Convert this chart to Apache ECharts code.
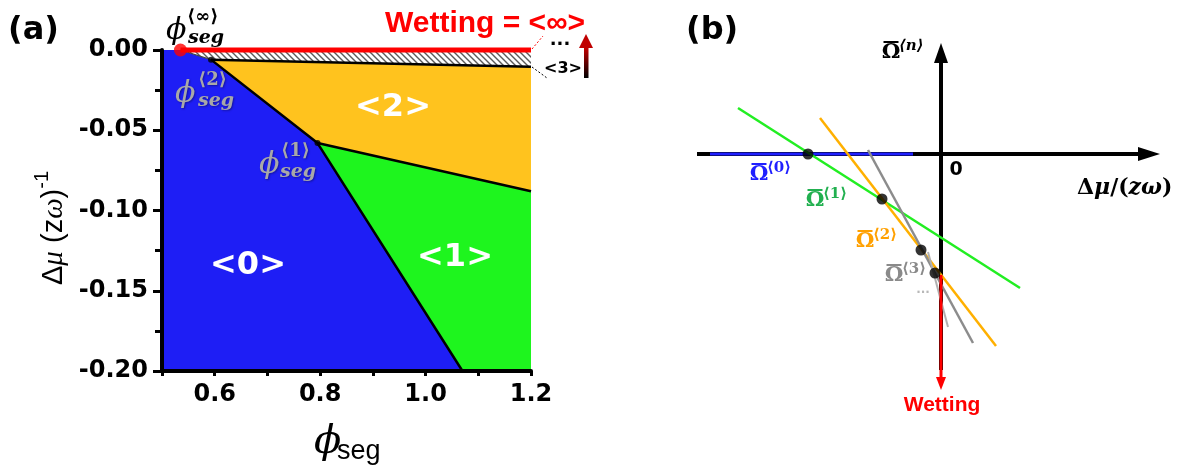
<!DOCTYPE html>
<html><head><meta charset="utf-8">
<script src="https://cdn.jsdelivr.net/npm/echarts@6/dist/echarts.min.js"></script>
<style>html,body{margin:0;padding:0;background:#fff}#c{width:1179px;height:475px}</style>
</head><body><div id="c"></div>
<script>
// ---------------- Panel (a): phase diagram ----------------
const xRangeA = [0.5, 1.2];
const yRangeA = [-0.20, 0.00];
const xTickLabelsA = ['0.6', '0.8', '1.0', '1.2'];
const phiInf = [0.535, 0.000];
const phi2 = [0.593, -0.006];
const phi1 = [0.795, -0.058];
const b01End = [1.070, -0.200];
const b12End = [1.200, -0.088];
const b23End = [1.200, -0.0105];
const region0 = [[0.5, 0], phiInf, phi2, phi1, b01End, [0.5, -0.2]];
const region1 = [phi1, b12End, [1.2, -0.2], b01End];
const region2 = [phi2, b23End, b12End, phi1];
const regionHigher = [phiInf, [1.2, 0], b23End, phi2];
const wettingLine = [phiInf, [1.2, 0]];
const line0 = [phi2, phi1, b01End];
const line12 = [phi1, b12End];
const line23 = [phi2, b23End];
const lineInf2 = [phiInf, phi2];

// ---------------- Panel (b): schematic ----------------
const xRangeB = [-25, 22];
const yRangeB = [-24.6, 11.4];
const omega0 = [[-23.1, 0], [-2.8, 0]];
const omega1 = [[-20.3, 4.6], [7.9, -13.4]];
const omega2 = [[-12.1, 3.6], [5.5, -19.2]];
const omega3 = [[-7.3, 0.4], [3.2, -18.9]];
const omega4 = [[-1.3, -9.8], [0.7, -17.3]];
const crossings = [[-13.3, 0], [-5.9, -4.5], [-2.0, -9.6], [-0.6, -11.9]];
const wettingB = [[0, -12.1], [0, -22.3]];
const hAxisB = [[-24.4, 0], [19.9, 0]];
const vAxisB = [[0, -21.6], [0, 9.3]];
const hAxisTip = [21.9, 0];
const vAxisTip = [0, 11.1];
const wettingTip = [0, -23.6];

// ---------------- helpers ----------------
const C_BLUE = '#1e1ef5', C_YEL = '#ffc31e', C_GRN = '#1ef51e';
const mctx = document.createElement('canvas').getContext('2d');
function tw(t, f) { mctx.font = f; return mctx.measureText(t).width; }

const hatch = document.createElement('canvas');
hatch.width = 6; hatch.height = 6;
(function () {
  const g = hatch.getContext('2d');
  g.fillStyle = '#fff'; g.fillRect(0, 0, 6, 6);
  g.strokeStyle = '#5a5a5a'; g.lineWidth = 1.4;
  g.beginPath();
  g.moveTo(-1, -1); g.lineTo(7, 7);
  g.moveTo(-4, 2); g.lineTo(4, 10);
  g.moveTo(2, -4); g.lineTo(10, 4);
  g.stroke();
})();

function poly(pts, fill, xi) {
  return { type: 'custom', xAxisIndex: xi, yAxisIndex: xi, silent: true, z: 2, data: [0],
    renderItem: (p, api) => ({ type: 'polygon', shape: { points: pts.map(q => api.coord(q)) }, style: { fill: fill } }) };
}
function seg(data, color, width, xi, z, opacity) {
  return { type: 'line', xAxisIndex: xi, yAxisIndex: xi, data: data, symbol: 'none', clip: false, silent: true,
    z: z || 3, lineStyle: { color: color, width: width, opacity: opacity == null ? 1 : opacity } };
}
function dots(data, size, color, xi, z) {
  return { type: 'scatter', xAxisIndex: xi, yAxisIndex: xi, data: data, symbol: 'circle', symbolSize: size,
    clip: false, silent: true, z: z || 6, itemStyle: { color: color } };
}
function arrow(tip, dir, len, half, color) {
  return { type: 'custom', xAxisIndex: 1, yAxisIndex: 1, silent: true, z: 5, data: [tip],
    renderItem: (p, api) => {
      const c = api.coord([api.value(0), api.value(1)]);
      const bx = c[0] - dir[0] * len, by = c[1] - dir[1] * len, nx = -dir[1], ny = dir[0];
      return { type: 'polygon', shape: { points: [c, [bx + nx * half, by + ny * half], [bx - nx * half, by - ny * half]] }, style: { fill: color } };
    } };
}
function txt(x, y, text, font, fill, align, extra) {
  return { type: 'text', x: x, y: y, silent: true, z: 100,
    style: Object.assign({ text: text, font: font, fill: fill || '#000', align: align || 'left', verticalAlign: 'middle' }, extra || {}) };
}
function runs(x, y, parts) {
  const out = []; let cx = x;
  parts.forEach(p => { out.push(txt(cx, y + (p.dy || 0), p.t, p.f, p.c)); cx += tw(p.t, p.f) + (p.gap || 0); });
  return out;
}
function phiLabel(x, y, sup, color, shadow, supDx, segDx) {
  const ex = shadow ? { textShadowColor: 'rgba(0,0,0,0.35)', textShadowBlur: 2, textShadowOffsetX: 1, textShadowOffsetY: 1 } : {};
  return [
    txt(x, y, 'ϕ', 'italic 30px "DejaVu Serif"', color, 'left', ex),
    txt(x + supDx, y - 14, sup, 'bold 18px "DejaVu Serif"', color, 'left', ex),
    txt(x + segDx, y + 7, 'seg', 'italic bold 19px "DejaVu Serif"', color, 'left', ex)
  ];
}
function omegaLabel(cx, cy, sup, color, supItalic) {
  return [
    txt(cx, cy, 'Ω', 'bold 21px "DejaVu Serif"', color, 'center'),
    { type: 'rect', silent: true, z: 100, shape: { x: cx - 7.5, y: cy - 12, width: 15, height: 2 }, style: { fill: color } },
    txt(cx + 8, cy - 7, sup, (supItalic ? 'italic ' : '') + 'bold 15px "DejaVu Serif"', color, 'left')
  ];
}

let G = [];
G.push(txt(8, 31, '(a)', 'bold 32px "DejaVu Sans"'));
G.push(txt(686, 31, '(b)', 'bold 32px "DejaVu Sans"'));
G = G.concat(phiLabel(166, 31, '⟨∞⟩', '#000', false, 21, 22));
G = G.concat(phiLabel(175, 94, '⟨2⟩', '#a8a8a8', true, 23, 23));
G = G.concat(phiLabel(259, 165, '⟨1⟩', '#a8a8a8', true, 22, 21));
G.push(txt(248, 266, '<0>', 'bold 32px "DejaVu Sans"', '#fff', 'center'));
G.push(txt(455, 258, '<1>', 'bold 32px "DejaVu Sans"', '#fff', 'center'));
G.push(txt(393, 108, '<2>', 'bold 32px "DejaVu Sans"', '#fff', 'center'));
G.push(txt(385, 24, 'Wetting = <∞>', 'bold 30px "Liberation Sans"', '#ff0000'));
G.push(txt(560, 40, '...', 'bold 18px "DejaVu Sans"', '#000', 'center'));
G.push(txt(563, 69, '<3>', 'bold 16px "DejaVu Sans"', '#000', 'center'));
G.push({ type: 'rect', silent: true, z: 100, shape: { x: 584, y: 46, width: 4.5, height: 32 },
  style: { fill: { type: 'linear', x: 0, y: 0, x2: 0, y2: 1, colorStops: [{ offset: 0, color: '#d00000' }, { offset: 1, color: '#000' }] } } });
G.push({ type: 'polygon', silent: true, z: 100, shape: { points: [[579, 48], [593, 48], [586, 34]] }, style: { fill: '#c00000' } });
G.push({ type: 'line', silent: true, z: 100, shape: { x1: 532, y1: 49, x2: 543, y2: 36 }, style: { stroke: '#ff0000', lineWidth: 1, lineDash: [2, 2] } });
G.push({ type: 'line', silent: true, z: 100, shape: { x1: 532, y1: 67, x2: 547, y2: 78 }, style: { stroke: '#000', lineWidth: 1, lineDash: [2, 2] } });
// y-axis name (rotated)
G.push({ type: 'group', x: 54, y: 225, rotation: Math.PI / 2, children: runs(-60, 0, [
  { t: 'Δ', f: '29px "Liberation Sans"' },
  { t: 'μ', f: 'italic 29px "Liberation Serif"' },
  { t: ' (', f: '29px "Liberation Sans"' },
  { t: 'z', f: '29px "Liberation Sans"' },
  { t: 'ω', f: 'italic 29px "Liberation Serif"' },
  { t: ')', f: '29px "Liberation Sans"' },
  { t: '-1', f: '20px "Liberation Sans"', dy: -12 }
]) });
// x-axis name
G.push(txt(314, 443, 'ϕ', 'italic 40px "DejaVu Serif"'));
G.push(txt(337, 452, 'seg', '27px "Liberation Sans"'));
// Panel (b) labels
G = G.concat(omegaLabel(891, 53, '⟨n⟩', '#000', true));
G = G.concat(omegaLabel(759, 175, '⟨0⟩', '#1f1fff'));
G = G.concat(omegaLabel(815, 201, '⟨1⟩', '#22b050'));
G = G.concat(omegaLabel(865, 242, '⟨2⟩', '#ffa000'));
G = G.concat(omegaLabel(894, 276, '⟨3⟩', '#8a8a8a'));
G.push(txt(923, 290, '...', 'bold 12px "DejaVu Sans"', '#b8b8b8', 'center'));
G.push(txt(956, 170, '0', 'bold 19px "DejaVu Sans"', '#000', 'center'));
G = G.concat(runs(1077, 188, [
  { t: 'Δ', f: 'bold 22px "DejaVu Serif"' },
  { t: 'μ', f: 'italic bold 22px "DejaVu Serif"' },
  { t: '/(', f: 'bold 22px "DejaVu Serif"' },
  { t: 'zω', f: 'italic bold 22px "DejaVu Serif"' },
  { t: ')', f: 'bold 22px "DejaVu Serif"' }
]));
G.push(txt(942, 405, 'Wetting', 'bold 21px "Liberation Sans"', '#ff0000', 'center'));

const axisBlack = { color: '#000', width: 4 };
const option = {
  animation: false,
  backgroundColor: '#fff',
  grid: [
    { left: 162, right: 648, top: 50, bottom: 104 },
    { left: 691, right: 18, top: 40, bottom: 75 }
  ],
  xAxis: [
    { type: 'value', gridIndex: 0, min: xRangeA[0], max: xRangeA[1], interval: 0.1, z: 10,
      axisLine: { show: true, onZero: false, lineStyle: axisBlack },
      axisTick: { show: true, inside: false, length: 5, lineStyle: { color: '#000', width: 3 } },
      splitLine: { show: false },
      axisLabel: { margin: 12, color: '#000', fontFamily: 'DejaVu Sans', fontWeight: 'bold', fontSize: 24,
        formatter: v => { const s = v.toFixed(1); return xTickLabelsA.indexOf(s) >= 0 ? s : ''; } } },
    { type: 'value', gridIndex: 1, min: xRangeB[0], max: xRangeB[1], show: false, splitLine: { show: false } }
  ],
  yAxis: [
    { type: 'value', gridIndex: 0, min: yRangeA[0], max: yRangeA[1], interval: 0.05, z: 10,
      axisLine: { show: true, onZero: false, lineStyle: axisBlack },
      axisTick: { show: true, inside: false, length: 9, lineStyle: { color: '#000', width: 3 } },
      minorTick: { show: true, splitNumber: 2, length: 7, lineStyle: { color: '#000', width: 3 } },
      splitLine: { show: false }, minorSplitLine: { show: false },
      axisLabel: { margin: 14, color: '#000', fontFamily: 'DejaVu Sans', fontWeight: 'bold', fontSize: 24,
        formatter: v => v.toFixed(2) } },
    { type: 'value', gridIndex: 1, min: yRangeB[0], max: yRangeB[1], show: false, splitLine: { show: false } }
  ],
  series: [
    poly(region0, C_BLUE, 0),
    poly(region1, C_GRN, 0),
    poly(region2, C_YEL, 0),
    poly(regionHigher, { image: hatch, repeat: 'repeat' }, 0),
    seg(line0, '#000', 2.5, 0, 4),
    seg(line12, '#000', 2.5, 0, 4),
    seg(line23, '#000', 2.5, 0, 4),
    seg(lineInf2, '#444', 1.2, 0, 4),
    seg(wettingLine, '#ff0000', 5, 0, 5),
    dots([phi2, phi1], 6, '#000', 0, 6),
    dots([phiInf], 13, '#ff0000', 0, 7),
    // panel (b)
    seg(hAxisB, '#000', 4, 1, 3),
    seg(vAxisB, '#000', 4, 1, 3),
    arrow(hAxisTip, [1, 0], 22, 7, '#000'),
    arrow(vAxisTip, [0, -1], 20, 7, '#000'),
    seg(omega0, '#1f1fff', 3, 1, 4),
    seg(omega1, '#22ee22', 2.5, 1, 4),
    seg(omega2, '#ffb000', 2.5, 1, 4),
    seg(omega3, '#8c8c8c', 2.5, 1, 4),
    seg(omega4, '#b0b0b0', 2, 1, 4),
    seg(wettingB, '#ff0000', 3, 1, 5),
    arrow(wettingTip, [0, 1], 13, 5, '#ff0000'),
    dots(crossings, 11, '#000', 1, 7)
  ],
  graphic: G
};
const chart = echarts.init(document.getElementById('c'), null, { renderer: 'canvas' });
chart.setOption(option);
</script></body></html>
